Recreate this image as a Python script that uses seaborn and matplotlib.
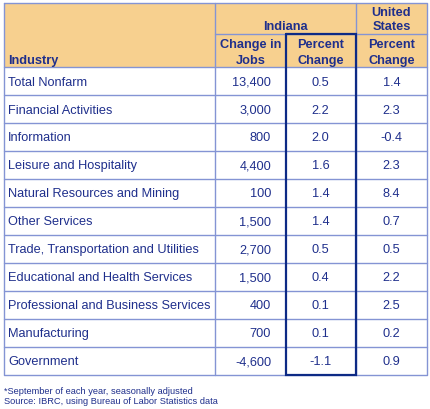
import matplotlib
matplotlib.use("Agg")
import matplotlib.pyplot as plt
from matplotlib.patches import Rectangle
import seaborn as sns

sns.set_style("white")
plt.rcParams['font.family'] = ['Liberation Sans', 'DejaVu Sans']

industries = ["Total Nonfarm", "Financial Activities", "Information",
              "Leisure and Hospitality", "Natural Resources and Mining",
              "Other Services", "Trade, Transportation and Utilities",
              "Educational and Health Services",
              "Professional and Business Services", "Manufacturing",
              "Government"]
jobs = [13400, 3000, 800, 4400, 100, 1500, 2700, 1500, 400, 700, -4600]
in_pct = [0.5, 2.2, 2.0, 1.6, 1.4, 1.4, 0.5, 0.4, 0.1, 0.1, -1.1]
us_pct = [1.4, 2.3, -0.4, 2.3, 8.4, 0.7, 0.5, 2.2, 2.5, 0.2, 0.9]
footnotes = ["*September of each year, seasonally adjusted",
             "Source: IBRC, using Bureau of Labor Statistics data"]

W, H = 430, 410
fig = plt.figure(figsize=(W / 100, H / 100), dpi=100)
ax = fig.add_axes([0, 0, 1, 1])
ax.set_xlim(0, W)
ax.set_ylim(H, 0)
ax.axis("off")

TXT = "#1f2f8c"
GRID = "#8494d4"
NAVY = "#0d2a85"
HEAD = "#f7d08f"

x0, x1, x2, x3, x4 = 3.5, 215, 285.5, 356, 427
y_top, y_mid, y_head = 3.5, 35, 68
row_h = 28
n = len(industries)
y_bot = y_head + n * row_h

ax.add_patch(Rectangle((x0, y_top), x4 - x0, y_head - y_top, facecolor=HEAD,
                       edgecolor="none", zorder=0))

lw = 1.0
ax.plot([x0, x4, x4, x0, x0], [y_top, y_top, y_bot, y_bot, y_top], color=GRID, lw=lw)
ax.plot([x1, x4], [y_mid, y_mid], color=GRID, lw=lw)
for i in range(n):
    y = y_head + i * row_h
    ax.plot([x0, x4], [y, y], color=GRID, lw=lw)
for x in (x1, x3):
    ax.plot([x, x], [y_top, y_bot], color=GRID, lw=lw)
ax.plot([x2, x3, x3, x2, x2], [y_mid, y_mid, y_bot, y_bot, y_mid],
        color=NAVY, lw=1.6, solid_joinstyle="miter", zorder=3)

fs = 9.2
hb = dict(color=TXT, fontsize=fs, fontweight="bold")
ax.text(8, 61, "Industry", ha="left", va="center", **hb)
ax.text((x1 + x3) / 2, 27, "Indiana", ha="center", va="center", **hb)
ax.text((x3 + x4) / 2, 13, "United", ha="center", va="center", **hb)
ax.text((x3 + x4) / 2, 27.5, "States", ha="center", va="center", **hb)
ax.text((x1 + x2) / 2, 45, "Change in", ha="center", va="center", **hb)
ax.text((x1 + x2) / 2, 61, "Jobs", ha="center", va="center", **hb)
for cx in ((x2 + x3) / 2, (x3 + x4) / 2):
    ax.text(cx, 45, "Percent", ha="center", va="center", **hb)
    ax.text(cx, 61, "Change", ha="center", va="center", **hb)

for i, name in enumerate(industries):
    yc = y_head + i * row_h + row_h / 2 + 0.5
    ax.text(8, yc, name, ha="left", va="center", color=TXT, fontsize=fs)
    ax.text(271, yc, f"{jobs[i]:,}", ha="right", va="center", color=TXT, fontsize=fs)
    ax.text((x2 + x3) / 2, yc, f"{in_pct[i]:.1f}", ha="center", va="center", color=TXT, fontsize=fs)
    ax.text((x3 + x4) / 2, yc, f"{us_pct[i]:.1f}", ha="center", va="center", color=TXT, fontsize=fs)

ax.text(4, 392, footnotes[0], ha="left", va="center", color=TXT, fontsize=6.7)
ax.text(4, 402, footnotes[1], ha="left", va="center", color=TXT, fontsize=6.7)

fig.savefig("out.png", dpi=100, facecolor="white")
